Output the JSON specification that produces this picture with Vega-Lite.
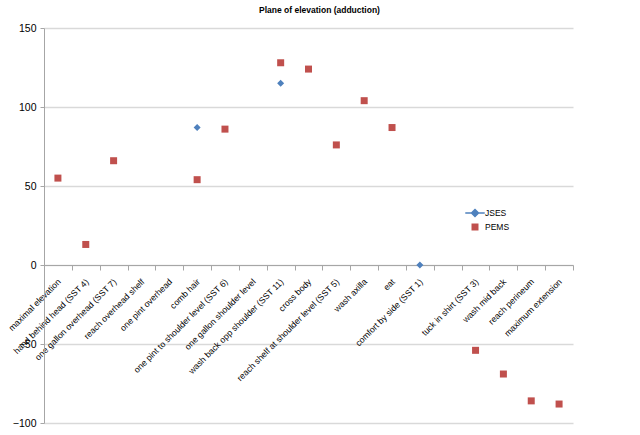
{
  "$schema": "https://vega.github.io/schema/vega-lite/v6.json",
  "width": 529,
  "height": 395,
  "autosize": "none",
  "padding": {"left": 44, "top": 28, "right": 67, "bottom": 12},
  "background": "white",
  "title": {"text": "Plane of elevation (adduction)", "font": "Liberation Sans", "fontSize": 8.5, "fontWeight": "bold", "color": "#000000", "anchor": "middle", "offset": 9, "dx": 11},
  "data": {"values": [
    {"task": "maximal elevation", "series": "PEMS", "value": 55},
    {"task": "hand behind head (SST 4)", "series": "PEMS", "value": 13},
    {"task": "one gallon overhead (SST 7)", "series": "PEMS", "value": 66},
    {"task": "comb hair", "series": "JSES", "value": 87},
    {"task": "comb hair", "series": "PEMS", "value": 54},
    {"task": "one pint to shoulder level (SST 6)", "series": "PEMS", "value": 86},
    {"task": "wash back opp shoulder (SST 11)", "series": "JSES", "value": 115},
    {"task": "wash back opp shoulder (SST 11)", "series": "PEMS", "value": 128},
    {"task": "cross body", "series": "PEMS", "value": 124},
    {"task": "reach shelf at shoulder level (SST 5)", "series": "PEMS", "value": 76},
    {"task": "wash axilla", "series": "PEMS", "value": 104},
    {"task": "eat", "series": "PEMS", "value": 87},
    {"task": "comfort by side (SST 1)", "series": "JSES", "value": 0},
    {"task": "tuck in shirt (SST 3)", "series": "PEMS", "value": -54},
    {"task": "wash mid back", "series": "PEMS", "value": -69},
    {"task": "reach perineum", "series": "PEMS", "value": -86},
    {"task": "maximum extension", "series": "PEMS", "value": -88}
  ]},
  "mark": {"type": "point", "filled": true, "opacity": 1, "strokeWidth": 0},
  "encoding": {
    "x": {
      "field": "task", "type": "nominal", "sort": null,
      "scale": {"type": "band", "paddingInner": 0, "paddingOuter": 0, "domain": [
        "maximal elevation", "hand behind head (SST 4)", "one gallon overhead (SST 7)", "reach overhead shelf", "one pint overhead", "comb hair", "one pint to shoulder level (SST 6)", "one gallon shoulder level", "wash back opp shoulder (SST 11)", "cross body", "reach shelf at shoulder level (SST 5)", "wash axilla", "eat", "comfort by side (SST 1)", " ", "tuck in shirt (SST 3)", "wash mid back", "reach perineum", "maximum extension"
      ]},
      "axis": {"title": null, "orient": "bottom", "offset": -158, "labelAngle": -45, "labelFont": "Liberation Sans", "labelFontSize": 8.7, "labelColor": "#000000", "labelPadding": 7, "labelOffset": -2, "labelOverlap": false, "labelLimit": 300, "tickBand": "extent", "tickSize": 5, "tickColor": "#a6a6a6", "domainColor": "#a6a6a6", "grid": false}
    },
    "y": {
      "field": "value", "type": "quantitative",
      "scale": {"domain": [-100, 150], "nice": false, "zero": false},
      "axis": {"title": null, "values": [-100, -50, 0, 50, 100, 150], "grid": true, "gridColor": "#d9d9d9", "gridWidth": 1.5, "domainColor": "#a6a6a6", "tickColor": "#a6a6a6", "tickSize": 4, "labelFont": "Liberation Sans", "labelFontSize": 10.5, "labelColor": "#000000", "labelPadding": 4}
    },
    "color": {
      "field": "series", "type": "nominal",
      "scale": {"domain": ["JSES", "PEMS"], "range": ["#4F81BD", "#C0504D"]},
      "legend": {
        "title": null, "orient": "none", "legendX": 421, "legendY": 175, "padding": 0, "rowPadding": 0.5,
        "labelFont": "Liberation Sans", "labelFontSize": 8.5, "labelColor": "#000000", "labelOffset": 0,
        "symbolStrokeWidth": 1.5, "symbolOpacity": 1
      }
    },
    "shape": {
      "field": "series", "type": "nominal",
      "scale": {"domain": ["JSES", "PEMS"], "range": ["M-1.08,0L1.08,0M0,-0.39L0.39,0L0,0.39L-0.39,0Z", "square"]},
      "legend": null
    },
    "size": {
      "field": "series", "type": "nominal",
      "scale": {"domain": ["JSES", "PEMS"], "range": [324, 49]},
      "legend": null
    },
    "stroke": {
      "field": "series", "type": "nominal",
      "scale": {"domain": ["JSES", "PEMS"], "range": ["#4F81BD", "transparent"]},
      "legend": null
    }
  },
  "config": {"view": {"stroke": null}}
}
